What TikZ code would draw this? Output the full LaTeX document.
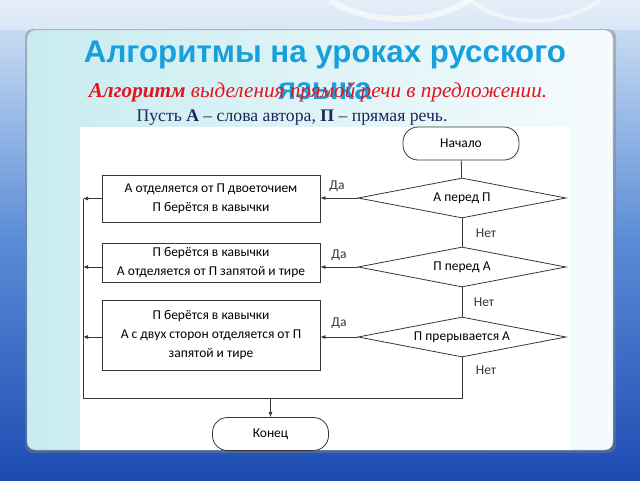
\documentclass[tikz,border=0pt]{standalone}
\usepackage{fontspec}
\setmainfont{Liberation Serif}
\newfontfamily\titlefont{Liberation Sans}
\newfontfamily\chartfont{Carlito}
\usetikzlibrary{shapes.geometric,arrows.meta,calc}
\definecolor{titleblue}{RGB}{24,160,220}
\definecolor{subred}{RGB}{225,20,30}
\definecolor{navytext}{RGB}{28,40,90}
\definecolor{lineg}{RGB}{55,55,55}
\definecolor{bgtop}{RGB}{214,230,246}
\definecolor{bgmid}{RGB}{90,140,215}
\definecolor{bgbot}{RGB}{28,76,178}
\definecolor{panelL}{RGB}{200,236,240}
\definecolor{panelR}{RGB}{246,251,253}
\tikzset{
  flow/.style={draw=lineg, line width=0.8pt},
  term/.style={flow, rectangle, rounded corners=15pt, minimum width=116pt, minimum height=33pt,
    font=\chartfont\fontsize{13.5}{15}\selectfont, inner sep=2pt},
  dec/.style={flow, diamond, aspect=5, minimum width=208pt, minimum height=40pt,
    font=\chartfont\fontsize{13.5}{15}\selectfont, inner sep=1pt},
  proc/.style={flow, rectangle, minimum width=218pt, align=center,
    font=\chartfont\fontsize{13.5}{19}\selectfont, inner sep=2pt},
  lab/.style={font=\chartfont\fontsize{13.5}{15}\selectfont, text=lineg, inner sep=0pt},
  arr/.style={flow, -{Latex[length=5pt,width=4pt]}},
  con/.style={flow}
}
\begin{document}
\begin{tikzpicture}[x=1pt,y=-1pt]
\useasboundingbox (0,0) rectangle (640,480);
% background
\shade[top color=bgtop, bottom color=bgbot, middle color=bgmid] (0,0) rectangle (640,480);
\fill[white, opacity=0.35] (0,0) rectangle (640,30);
\draw[white, opacity=0.6, line width=6pt] (330,0) .. controls (360,20) and (420,30) .. (470,0);
\draw[white, opacity=0.5, line width=4pt] (470,0) .. controls (500,25) and (560,30) .. (600,0);
% panel
\fill[gray, opacity=0.45, rounded corners=8pt] (25,29) rectangle (616,453);
\shade[left color=panelL, right color=panelR, rounded corners=8pt, draw=gray!70] (27,30) rectangle (613,450);
% white picture area
\fill[white] (80,127) rectangle (570,450);
% titles
\node[font=\titlefont\bfseries\fontsize{31.3}{37}\selectfont, text=titleblue, anchor=base] (title1) at (325,62) {Алгоритмы на уроках русского};
\node[font=\titlefont\bfseries\fontsize{31.3}{37}\selectfont, text=titleblue, anchor=base] (title2) at (325,99) {языка};
\node[font=\itshape\fontsize{21.2}{24}\selectfont, text=subred, anchor=base] (sub) at (318,97) {\textbf{Алгоритм} выделения прямой речи в предложении.};
\node[font=\fontsize{17.7}{20}\selectfont, text=navytext, anchor=base] (given) at (292,121) {Пусть \textbf{А} – слова автора, \textbf{П} – прямая речь.};
% flowchart
\node[term] (start) at (461,143.5) {Начало};
\node[dec] (d1) at (462,198) {А перед П};
\node[dec] (d2) at (462,267) {П перед А};
\node[dec] (d3) at (462,337) {П прерывается А};
\node[proc, minimum height=47pt] (b1) at (211,198.5) {А отделяется от П двоеточием\\П берётся в кавычки};
\node[proc, minimum height=39pt] (b2) at (211,262.5) {П берётся в кавычки\\А отделяется от П запятой и тире};
\node[proc, minimum height=70pt] (b3) at (211,335) {П берётся в кавычки\\А с двух сторон отделяется от П\\запятой и тире};
\node[term] (finish) at (270.5,434) {Конец};
\coordinate (loopR) at (462,398);
\coordinate (loopL) at (83,398);
\coordinate (loopT) at (83,199);
\node[lab] (da1) at (337,186) {Да};
\node[lab] (da2) at (339,255) {Да};
\node[lab] (da3) at (339,323) {Да};
\node[lab] (net1) at (486,233) {Нет};
\node[lab] (net2) at (484,302) {Нет};
\node[lab] (net3) at (486,370) {Нет};
\draw[con] (start) -- (d1);
\draw[con] (d1) -- (d2);
\draw[con] (d2) -- (d3);
\draw[arr] (d1.west) -- (d1.west -| b1.east);
\draw[arr] (d2.west) -- (d2.west -| b2.east);
\draw[arr] (d3.west) -- (d3.west -| b3.east);
\draw[con] (d3.south) -- (loopR) -- (loopL) -- (loopT);
\draw[arr] (b1.west) -- (b1.west -| loopL);
\draw[arr] (d2.west -| b2.west) -- (d2.west -| loopL);
\draw[arr] (d3.west -| b3.west) -- (d3.west -| loopL);
\draw[arr] (loopR -| finish) -- (finish.north);
\end{tikzpicture}
\end{document}
